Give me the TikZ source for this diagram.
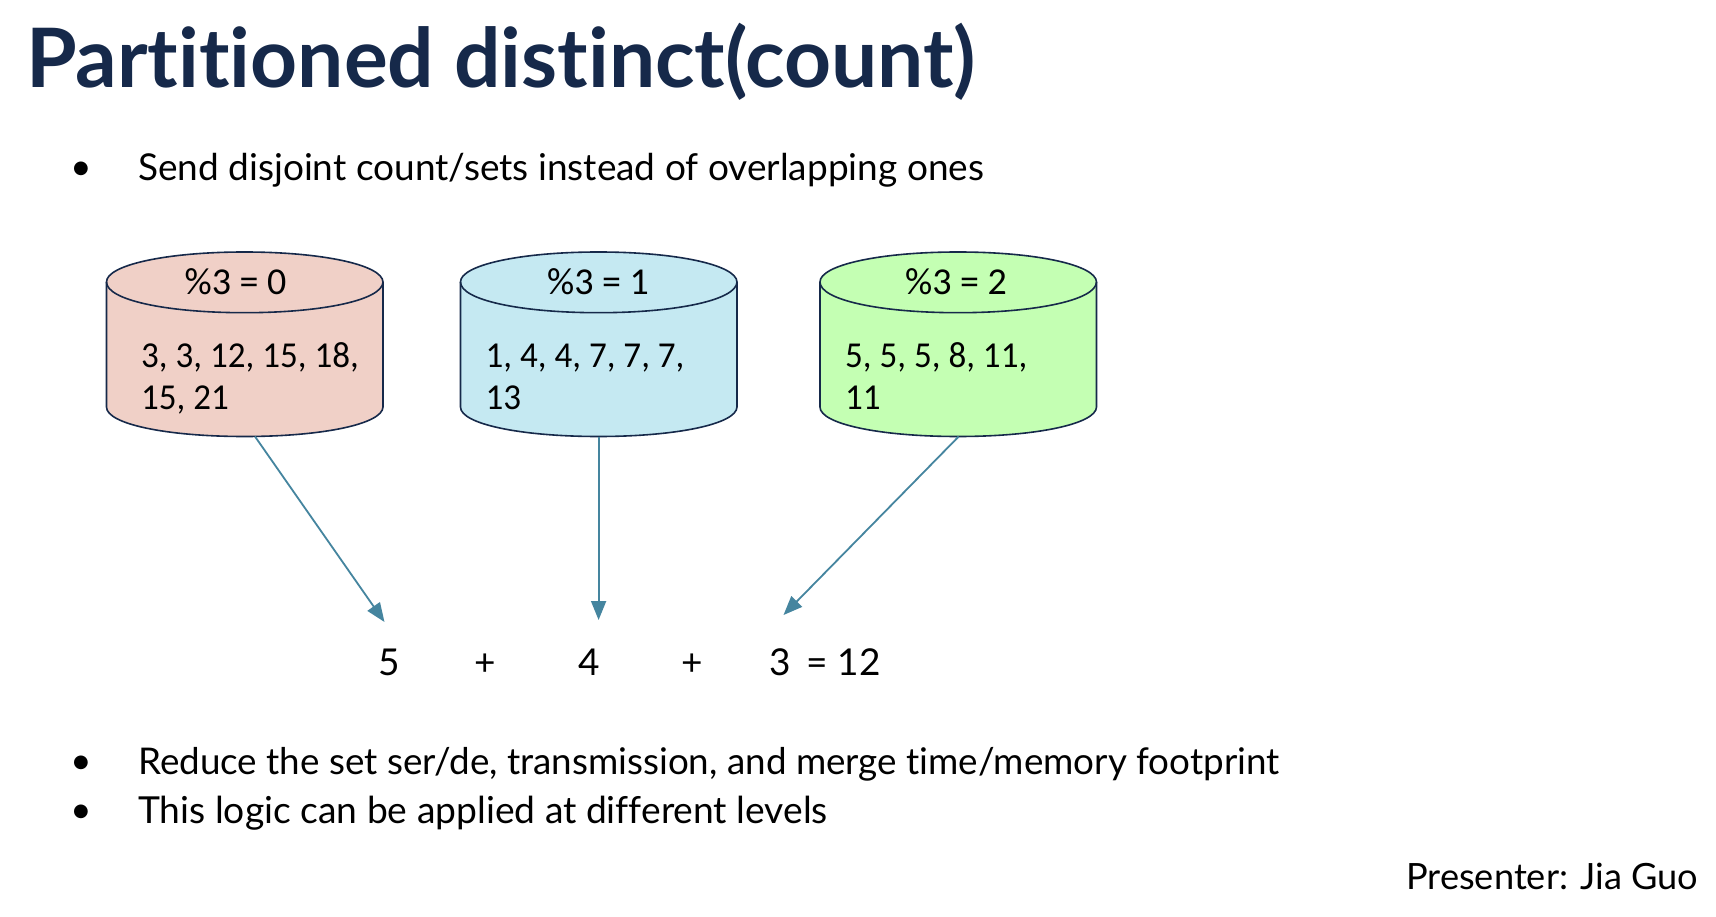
\documentclass[tikz,border=0pt]{standalone}
\usepackage{fontspec}
\setmainfont[Ligatures=NoCommon]{Lato}
\newfontfamily\cyl[Ligatures=NoCommon]{Carlito}
\newfontfamily\cylnarrow[Ligatures=NoCommon,FakeStretch=0.96]{Carlito}
\newfontfamily\bul{DejaVu Sans}
\definecolor{ink}{HTML}{16294A}
\definecolor{arrowc}{HTML}{45859F}
\definecolor{cpink}{HTML}{F0D0C7}
\definecolor{cblue}{HTML}{C5E9F2}
\definecolor{cgreen}{HTML}{C4FFB3}
\usetikzlibrary{arrows.meta}
\tikzset{
  x=1pt,y=-1pt,
  titletext/.style={anchor=base west,inner sep=0pt,text=ink,font=\fontsize{82}{82}\selectfont\bfseries},
  bodytext/.style={anchor=base west,inner sep=0pt,font=\fontsize{37}{37}\selectfont},
  bulletmark/.style={anchor=center,inner sep=0pt,font=\fontsize{18}{18}\bul},
  cyltext/.style={anchor=base west,inner sep=0pt,font=\fontsize{36.5}{36.5}\cylnarrow},
  cylhead/.style={anchor=base,inner sep=0pt,font=\fontsize{38}{38}\cyl},
  sumtext/.style={anchor=base,inner sep=0pt,font=\fontsize{37}{37}\selectfont},
  flow/.style={draw=arrowc,line width=1.8pt,-{Triangle[length=19pt,width=15pt]}},
  cylline/.style={draw=ink,line width=1.6pt},
}
\newcommand{\cylinder}[2]{%
  \path[cylline,fill=#2] (#1,282)
    .. controls (#1,265) and (#1+60,252) .. (#1+138,252)
    .. controls (#1+216,252) and (#1+276,265) .. (#1+276.5,282)
    -- (#1+276.5,407)
    .. controls (#1+276,424) and (#1+216,436.5) .. (#1+138,436.5)
    .. controls (#1+60,436.5) and (#1,424) .. (#1,407) -- cycle;
  \path[cylline] (#1,282)
    .. controls (#1,300) and (#1+60,312.7) .. (#1+138,312.7)
    .. controls (#1+216,312.7) and (#1+276,300) .. (#1+276.5,282);
}
\begin{document}
\begin{tikzpicture}
\useasboundingbox (0,0) rectangle (1716,917);
\fill[white] (0,0) rectangle (1716,917);
\node[titletext] (title) at (26,88) {Partitioned distinct(count)};
\node[bulletmark] (b1) at (81,169) {●};
\node[bodytext] (t1) at (138,181) {Send disjoint count/sets instead of overlapping ones};
\cylinder{106.5}{cpink}
\cylinder{460.5}{cblue}
\cylinder{820}{cgreen}
\coordinate (c1) at (255,436.5);
\coordinate (c2) at (598.6,436.5);
\coordinate (c3) at (958.7,436.5);
\node[cylhead] (h1) at (235.5,295) {\%3 = 0};
\node[cylhead] (h2) at (598,295) {\%3 = 1};
\node[cylhead] (h3) at (956,295) {\%3 = 2};
\node[cyltext] (a1) at (141,367) {3, 3, 12, 15, 18,};
\node[cyltext] (a2) at (141,409) {15, 21};
\node[cyltext] (b1t) at (485.5,367) {1, 4, 4, 7, 7, 7,};
\node[cyltext] (b2t) at (485.5,409) {13};
\node[cyltext] (c1t) at (845,367) {5, 5, 5, 8, 11,};
\node[cyltext] (c2t) at (845,409) {11};
\coordinate (e1) at (384.5,622);
\coordinate (e2) at (598.6,620);
\coordinate (e3) at (783.5,615);
\draw[flow] (c1) -- (e1);
\draw[flow] (c2) -- (e2);
\draw[flow] (c3) -- (e3);
\node[sumtext] (s1) at (389,675) {5};
\node[sumtext] (p1) at (485,675) {+};
\node[sumtext] (s2) at (589,675) {4};
\node[sumtext] (p2) at (692,675) {+};
\node[anchor=base west,inner sep=0pt,font=\fontsize{37}{37}\selectfont] (s3) at (769,675) {3\hspace{16pt}= 12};
\node[bulletmark] (b2) at (81,763) {●};
\node[anchor=base west,inner sep=0pt,font=\fontsize{36.8}{36.8}\selectfont] (t2) at (138,774.5) {Reduce the set ser/de, transmission, and merge time/memory footprint};
\node[bulletmark] (b3) at (81,812) {●};
\node[anchor=base west,inner sep=0pt,font=\fontsize{37.2}{37.2}\selectfont] (t3) at (138,823) {This logic can be applied at different levels};
\node[anchor=base east,inner sep=0pt,font=\fontsize{36.2}{36.2}\selectfont] (p) at (1698.5,889) {Presenter: Jia Guo};
\end{tikzpicture}
\end{document}
